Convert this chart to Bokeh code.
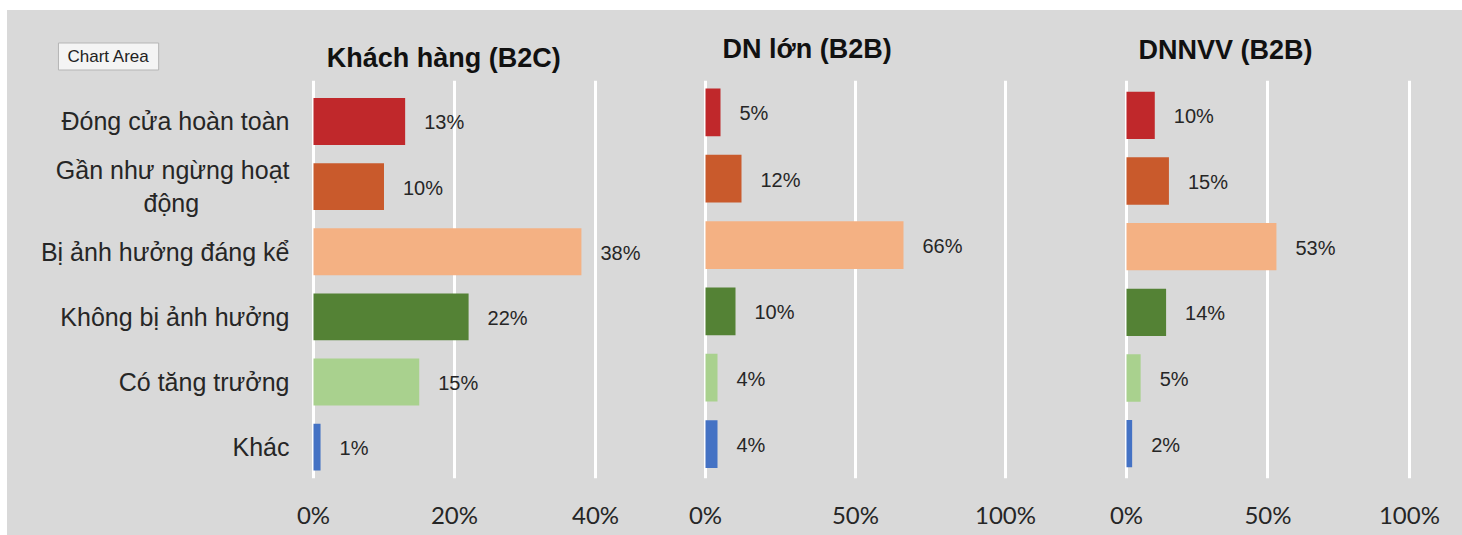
from bokeh.plotting import figure
from bokeh.layouts import row, column
from bokeh.models import (ColumnDataSource, FixedTicker, NumeralTickFormatter, Range1d,
                          FactorRange, Label, Spacer)
from bokeh.core.properties import value
from bokeh.transform import dodge
from bokeh.embed import file_html
from bokeh.resources import INLINE

# ---- data ----
categories = ["Đóng cửa hoàn toàn", "Gần như ngừng hoạt động", "Bị ảnh hưởng đáng kể",
              "Không bị ảnh hưởng", "Có tăng trưởng", "Khác"]
category_labels = ["Đóng cửa hoàn toàn", "Gần như ngừng hoạt\nđộng" + "\u00a0" * 13,
                   "Bị ảnh hưởng đáng kể", "Không bị ảnh hưởng", "Có tăng trưởng", "Khác"]
b2c = [13, 10, 38, 22, 15, 1]
dn_lon = [5, 12, 66, 10, 4, 4]
dnnvv = [10, 15, 53, 14, 5, 2]
titles = ["Khách hàng (B2C)", "DN lớn (B2B)", "DNNVV (B2B)"]
colors = ["#C0282B", "#C95A2C", "#F4B183", "#548235", "#A9D18E", "#4472C4"]
ticks_b2c = [0, 0.2, 0.4]
ticks_b2b = [0, 0.5, 1.0]

BG = "#D9D9D9"
TXT = "#262626"
HEADER_H = 70


def header(width, title, tx, ty):
    h = figure(width=width, height=HEADER_H, output_backend="svg", toolbar_location=None,
               x_range=Range1d(0, width), y_range=Range1d(HEADER_H, 0),
               x_axis_location=None, y_axis_location=None, min_border=0,
               background_fill_color=BG, border_fill_color=BG, outline_line_color=None)
    h.xgrid.visible = False
    h.ygrid.visible = False
    h.add_layout(Label(x=tx, y=ty, text=title, text_align="center", text_baseline="middle",
                       text_font="Liberation Sans", text_font_style="bold",
                       text_font_size="27px", text_color="#111111"))
    return h


def panel(vals, ticks, xstart, xend, width, br, pad, shift, with_cats):
    src = ColumnDataSource(dict(
        cat=category_labels,
        x=[v / 100 for v in vals],
        label=[f"{v}%" for v in vals],
        color=colors,
        zero=[0] * len(vals),
    ))
    yr = FactorRange(factors=list(reversed(category_labels)), range_padding=pad,
                     range_padding_units="absolute")
    p = figure(width=width, height=525 - HEADER_H, output_backend="svg", toolbar_location=None,
               y_range=yr, x_range=Range1d(xstart, xend),
               min_border_left=0, min_border_right=br, min_border_top=0, min_border_bottom=57,
               background_fill_color=BG, background_fill_alpha=0.0,
               border_fill_color=BG, outline_line_color=None)

    ypos = dodge("cat", shift, range=yr)
    p.hbar(y=ypos, right="x", left=0, height=0.72, source=src,
           fill_color="color", line_color=None)
    p.text(x="x", y=ypos, text="label", source=src, x_offset=19, y_offset=1,
           text_align="left", text_baseline="middle",
           text_font=value("Liberation Sans"), text_font_size="20px", text_color=TXT)
    if with_cats:
        p.text(x="zero", y=ypos, text="cat", source=src, x_offset=-24, y_offset=0,
               text_align="right", text_baseline="middle",
               text_font=value("Liberation Sans"), text_font_size="25px", text_color=TXT)

    p.xaxis.ticker = FixedTicker(ticks=ticks)
    p.xaxis.formatter = NumeralTickFormatter(format="0%")
    p.xaxis.axis_line_color = None
    p.xaxis.major_tick_line_color = None
    p.xaxis.minor_tick_line_color = None
    p.xaxis.major_label_text_font = "Lato"
    p.xaxis.major_label_text_font_size = "24px"
    p.xaxis.major_label_text_color = TXT
    p.xaxis.major_label_standoff = 15
    p.yaxis.visible = False

    p.xgrid.ticker = FixedTicker(ticks=ticks)
    p.xgrid.grid_line_color = "white"
    p.xgrid.grid_line_width = 3
    p.ygrid.grid_line_color = None
    return p


# panel 1: 705 px per unit, frame spans the category-label area as well
p1 = panel(b2c, ticks_b2c, -0.434, 0.4936, 673, 19, 0.055, -0.074, True)
p2 = panel(dn_lon, ticks_b2b, -25 / 300, 1.25, 420, 20, 0.0, 0.02, False)
p3 = panel(dnnvv, ticks_b2b, -26 / 283, 1.11, 362, 22, 0.03, 0.0, False)

h1 = header(673, titles[0], 449, 47)
h2 = header(420, titles[1], 133, 38)
h3 = header(362, titles[2], 133, 39)

# "Chart Area" tooltip box
h1.add_layout(Label(x=104, y=46, text="Chart Area", text_align="center", text_baseline="middle",
                    text_font="Liberation Sans", text_font_size="17px", text_color="#222222",
                    background_fill_color="#F4F4F4", border_line_color="#B5B5B5",
                    padding=(9, 4)))

charts = row(column(h1, p1, spacing=0), column(h2, p2, spacing=0), column(h3, p3, spacing=0),
             spacing=0, styles={"background-color": BG})
layout = column(Spacer(height=10, width=1462),
                row(Spacer(width=7, height=525), charts, spacing=0), spacing=0)
open("out.html", "w").write(file_html(layout, INLINE))
